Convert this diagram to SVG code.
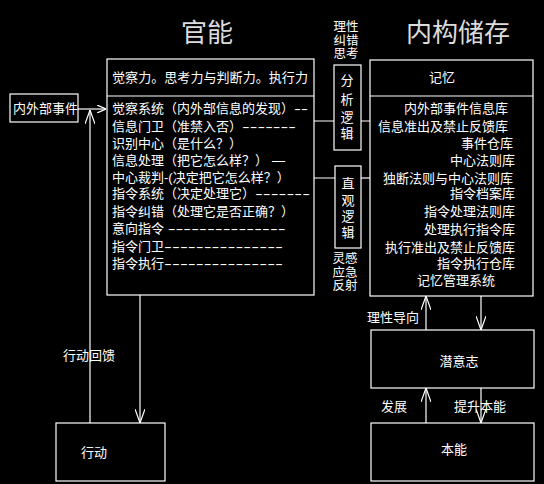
<svg xmlns="http://www.w3.org/2000/svg" width="544" height="484" viewBox="0 0 544 484">
<style>
text{font-family:"Liberation Sans","Noto Sans CJK SC",sans-serif;fill:#fff;font-size:13px}
.t{font-size:26px;fill:#dcdcdc;text-anchor:middle}
.m{text-anchor:middle}
.r{text-anchor:end}
.st{font-size:12.5px;text-anchor:middle}
.box{fill:#000;stroke:#fff;stroke-width:1.2}
.ln{stroke:#fff;stroke-width:1.2;fill:none}
</style>
<defs>
<marker id="s" markerUnits="userSpaceOnUse" viewBox="0 0 9 8" markerWidth="9" markerHeight="8" refX="9" refY="4" orient="auto"><path d="M0,0 L9,4 L0,8" fill="none" stroke="#fff" stroke-width="1.2"/></marker>
<marker id="b" markerUnits="userSpaceOnUse" viewBox="0 0 14 10" markerWidth="14" markerHeight="10" refX="14" refY="5" orient="auto"><path d="M0,0 L14,5 L0,10" fill="none" stroke="#fff" stroke-width="1.2"/></marker>
</defs>
<rect width="544" height="484" fill="#000"/>
<text class="t" x="207" y="42">官能</text>
<text class="t" x="458" y="42">内构储存</text>

<g id="labels">
<text x="63" y="360" textLength="52" lengthAdjust="spacingAndGlyphs">行动回馈</text>
<text x="367" y="322">理性导向</text>
<text x="381" y="411">发展</text>
<text x="454" y="411">提升本能</text>
</g>

<g id="connectors">
<line class="ln" x1="78" y1="109" x2="106" y2="109" marker-end="url(#s)"/>
<line class="ln" x1="90" y1="423" x2="90" y2="110" marker-end="url(#b)"/>
<line class="ln" x1="140" y1="295" x2="140" y2="423" marker-end="url(#b)"/>
<line class="ln" x1="370" y1="121" x2="300" y2="121" marker-end="url(#s)"/>
<line class="ln" x1="370" y1="178" x2="356" y2="178"/>
<line class="ln" x1="335" y1="178" x2="301" y2="178" marker-end="url(#s)"/>
<line class="ln" x1="426" y1="330" x2="426" y2="296" marker-end="url(#b)"/>
<line class="ln" x1="481" y1="296" x2="481" y2="330" marker-end="url(#b)"/>
<line class="ln" x1="426" y1="423" x2="426" y2="388" marker-end="url(#b)"/>
<line class="ln" x1="481" y1="388" x2="481" y2="423" marker-end="url(#b)"/>
</g>

<g id="events">
<rect class="box" x="10" y="94" width="68" height="28"/>
<text x="13" y="113">内外部事件</text>
</g>

<g id="guanneng">
<rect class="box" x="107" y="59" width="207" height="236"/>
<line class="ln" x1="107" y1="96" x2="314" y2="96"/>
<text x="112" y="82" textLength="196" lengthAdjust="spacingAndGlyphs">觉察力。思考力与判断力。执行力</text>
<text x="112" y="113">觉察系统（内外部信息的发现）<tspan textLength="14" lengthAdjust="spacingAndGlyphs">--</tspan></text>
<text x="112" y="131">信息门卫（准禁入否）<tspan textLength="54" lengthAdjust="spacingAndGlyphs">-------</tspan></text>
<text x="112" y="148">识别中心（是什么？）</text>
<text x="112" y="165">信息处理（把它怎么样？）<tspan dx="4">—</tspan></text>
<text x="112" y="182">中心裁判-(决定把它怎么样？）</text>
<text x="112" y="198">指令系统（决定处理它）<tspan textLength="55" lengthAdjust="spacingAndGlyphs">-------</tspan></text>
<text x="112" y="216">指令纠错（处理它是否正确？）</text>
<text x="112" y="233">意向指令 <tspan textLength="118" lengthAdjust="spacingAndGlyphs">---------------</tspan></text>
<text x="112" y="251">指令门卫<tspan textLength="119" lengthAdjust="spacingAndGlyphs">---------------</tspan></text>
<text x="112" y="268">指令执行<tspan textLength="119" lengthAdjust="spacingAndGlyphs">---------------</tspan></text>
</g>

<g id="rational">
<text class="st" x="346" y="31">理性</text>
<text class="st" x="346" y="44.5">纠错</text>
<text class="st" x="346" y="58">思考</text>
</g>

<g id="analysis">
<rect class="box" x="334" y="65" width="27" height="85"/>
<text class="m" x="347" y="85">分</text>
<text class="m" x="347" y="104">析</text>
<text class="m" x="347" y="122">逻</text>
<text class="m" x="347" y="138">辑</text>
</g>

<g id="intuition">
<rect class="box" x="335" y="166" width="26" height="82"/>
<text class="m" x="348" y="188">直</text>
<text class="m" x="348" y="205">观</text>
<text class="m" x="348" y="221">逻</text>
<text class="m" x="348" y="237">辑</text>
</g>

<g id="reflex">
<text class="st" x="345" y="263">灵感</text>
<text class="st" x="345" y="276.5">应急</text>
<text class="st" x="345" y="290">反射</text>
</g>

<g id="memory">
<rect class="box" x="370" y="60" width="163" height="236"/>
<line class="ln" x1="370" y1="96" x2="533" y2="96"/>
<text class="m" x="442" y="82">记忆</text>
<text class="r" x="508" y="113">内外部事件信息库</text>
<text class="r" x="508" y="131">信息准出及禁止反馈库</text>
<text class="r" x="513" y="148">事件仓库</text>
<text class="r" x="515" y="165">中心法则库</text>
<text class="r" x="513" y="183">独断法则与中心法则库</text>
<text class="r" x="515" y="198">指令档案库</text>
<text class="r" x="515" y="216">指令处理法则库</text>
<text class="r" x="515" y="234">处理执行指令库</text>
<text class="r" x="515" y="252">执行准出及禁止反馈库</text>
<text class="r" x="515" y="268">指令执行仓库</text>
<text x="417" y="285">记忆管理系统</text>
</g>

<g id="subconscious">
<rect class="box" x="371" y="330" width="163" height="58"/>
<text class="m" x="459" y="366">潜意志</text>
</g>

<g id="instinct">
<rect class="box" x="371" y="423" width="163" height="58"/>
<text class="m" x="454" y="454">本能</text>
</g>

<g id="action">
<rect class="box" x="56" y="423" width="109" height="58"/>
<text x="81" y="457">行动</text>
</g>
</svg>
